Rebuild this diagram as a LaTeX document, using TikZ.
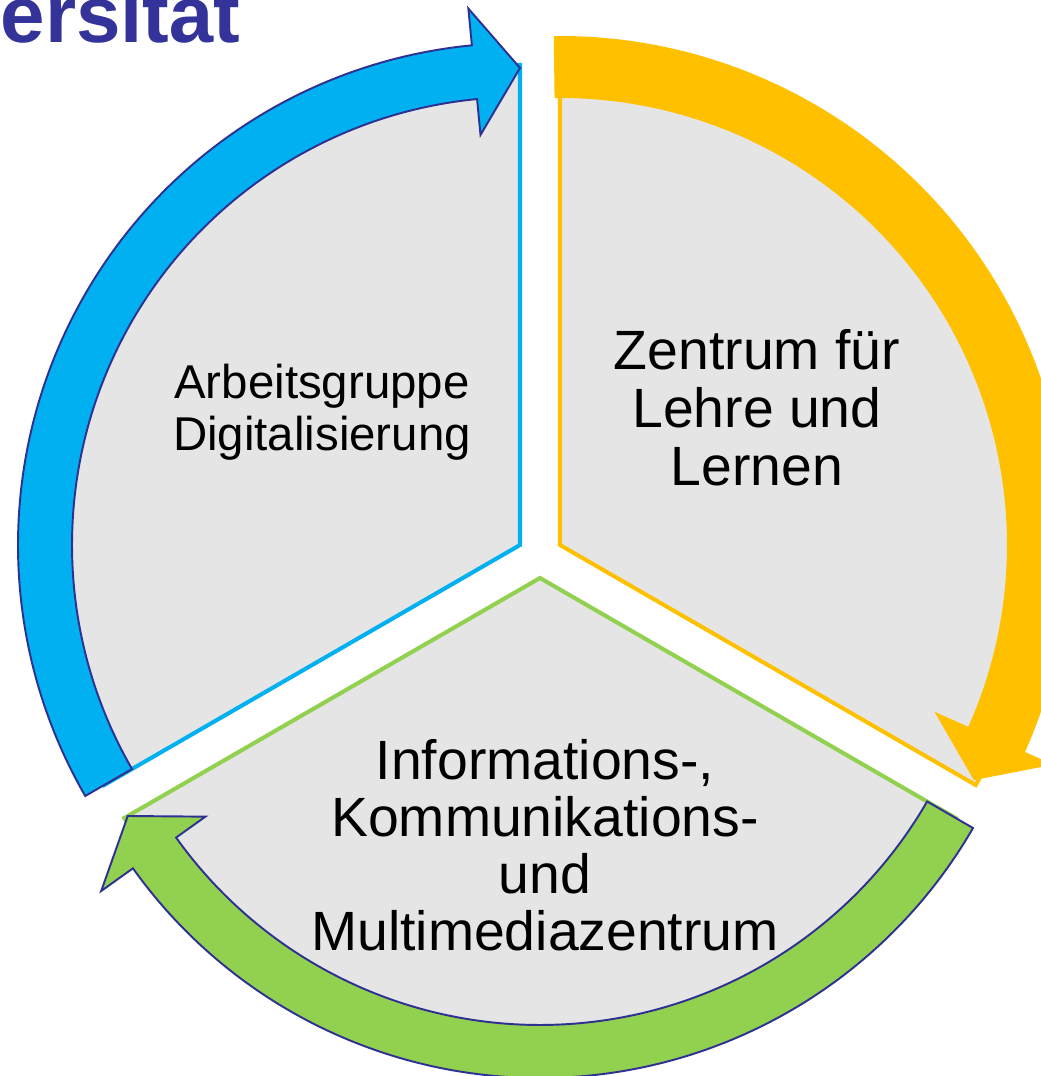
\documentclass[tikz,border=0pt]{standalone}
\usepackage{fontspec}
\setmainfont{Liberation Sans}
\usetikzlibrary{calc}
\definecolor{unibluetext}{RGB}{51,51,153}
\definecolor{agblue}{RGB}{0,176,240}
\definecolor{zllorange}{RGB}{255,192,0}
\definecolor{ikmgreen}{RGB}{146,208,80}
\definecolor{sectorgray}{RGB}{229,229,229}
\definecolor{arrowedge}{RGB}{46,49,146}

\tikzset{
  sector/.style={fill=sectorgray, line width=2.3pt, line join=miter},
  ringarrow/.style={line width=1.1pt, line join=miter},
  sectortext/.style={align=center, text=black, inner sep=0pt},
}

\begin{document}
\begin{tikzpicture}[x=0.02cm, y=0.02cm]
  \useasboundingbox (0,0) rectangle (1041,1076);
  \clip (0,0) rectangle (1041,1076);

  % centres of the three sectors
  \coordinate (ag) at (520,531);
  \coordinate (zll) at (560,531);
  \coordinate (ikm) at (540,498);

  % grey sectors
  \draw[sector, draw=agblue] (ag) -- ++(210:480) arc[start angle=210, end angle=90, radius=480] -- cycle;
  \draw[sector, draw=zllorange] (zll) -- ++(90:480) arc[start angle=90, end angle=-30, radius=480] -- cycle;
  \draw[sector, draw=ikmgreen] (ikm) -- ++(-30:480) arc[start angle=-30, end angle=-150, radius=480] -- cycle;

  % curved arrows
  \begin{scope}[shift={(ag)}]
    \draw[ringarrow, fill=agblue, draw=arrowedge] (210:502) arc[start angle=210, end angle=95.5, radius=502]
      -- (95.5:539) -- (90:477) -- (95.5:412) -- (95.5:448) arc[start angle=95.5, end angle=210, radius=448] -- cycle;
  \end{scope}
  \begin{scope}[shift={(zll)}]
    \fill[zllorange] (90.7:509) arc[start angle=90.7, end angle=-24, radius=509]
      -- (-24:540) -- (-29.6:476) -- (-24:410) -- (-24:447) arc[start angle=-24, end angle=90.7, radius=447] -- cycle;
  \end{scope}
  \begin{scope}[shift={(ikm)}]
    \draw[ringarrow, fill=ikmgreen, draw=arrowedge] (-30:500) arc[start angle=-30, end angle=-144.5, radius=500]
      -- (-144.5:539) -- (-150:476) -- (-144.5:411) -- (-144.5:447) arc[start angle=-144.5, end angle=-30, radius=447] -- cycle;
  \end{scope}

  % texts
  \node (agtext) [sectortext, font=\fontsize{27}{29.5}\selectfont] at (322,664) {Arbeitsgruppe\\Digitalisierung};
  \node (zlltext) [sectortext, font=\fontsize{31.5}{33}\selectfont] at (757,668) {Zentrum für\\Lehre und\\Lernen};
  \node (ikmtext) [sectortext, font=\fontsize{31.5}{32.5}\selectfont] at (545,231) {Informations-,\\Kommunikations-\\und\\Multimediazentrum};
  \node (unititle) [anchor=base east, inner sep=0pt, text=unibluetext, font=\fontsize{45.5}{50}\selectfont\bfseries] at (241,1033) {ersität};
\end{tikzpicture}
\end{document}
